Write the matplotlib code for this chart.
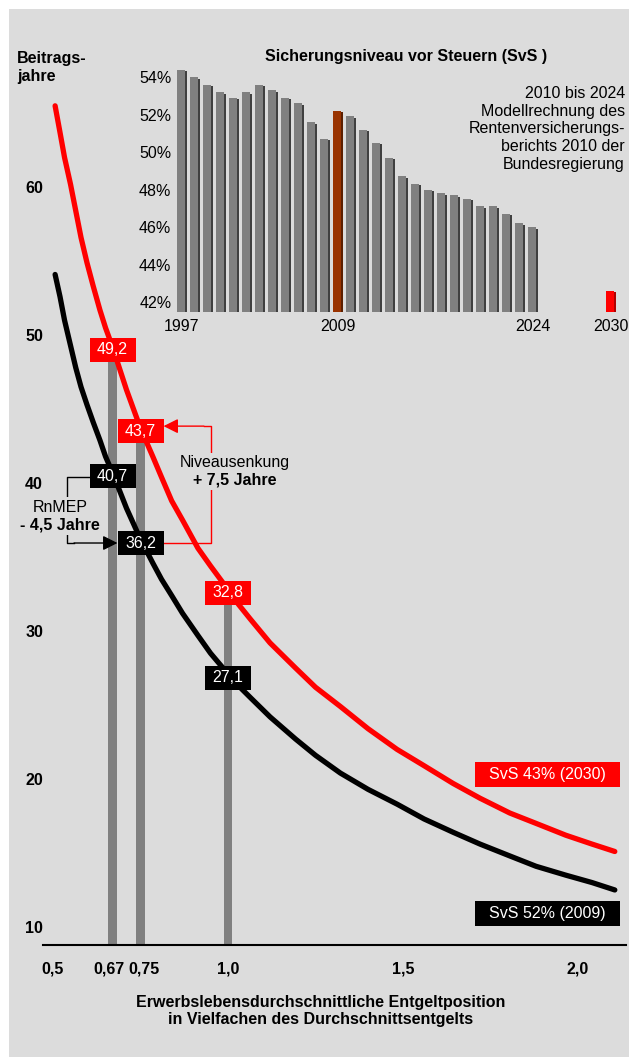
import matplotlib.pyplot as plt
from matplotlib.patches import Rectangle
from matplotlib.transforms import ScaledTranslation

plt.rcParams['font.family'] = ['Liberation Sans', 'DejaVu Sans']

BG = '#dcdcdc'
RED = '#ff0000'
GREY = '#808080'

# Beitragsjahre je Entgeltposition, fuer SvS 52% (2009) und SvS 43% (2030)
entgelt = [0.506, 0.52, 0.533, 0.55, 0.565, 0.58, 0.597, 0.615, 0.634, 0.65,
           0.67, 0.71, 0.75, 0.785, 0.81, 0.839, 0.87, 0.914, 0.95, 1.0,
           1.03, 1.064, 1.12, 1.193, 1.25, 1.321, 1.4, 1.483, 1.56, 1.643,
           1.72, 1.805, 1.88, 1.965, 2.04, 2.105]
jahre_2030 = [65.5, 63.7, 62.0, 60.2, 58.4, 56.6, 54.9, 53.3, 51.7, 50.5,
              49.2, 46.3, 43.7, 41.8, 40.4, 38.8, 37.5, 35.6, 34.4, 32.8,
              31.8, 30.8, 29.2, 27.5, 26.2, 24.9, 23.4, 22.0, 20.9, 19.7,
              18.7, 17.7, 17.0, 16.2, 15.6, 15.1]
jahre_2009 = [54.1, 52.6, 51.0, 49.3, 47.8, 46.5, 45.3, 44.1, 42.9, 41.8,
              40.7, 38.3, 36.2, 34.6, 33.5, 32.4, 31.2, 29.7, 28.5, 27.1,
              26.3, 25.5, 24.2, 22.7, 21.6, 20.4, 19.3, 18.3, 17.3, 16.4,
              15.6, 14.8, 14.1, 13.5, 13.0, 12.5]

# markierte Entgeltpositionen
mark_x = [0.67, 0.75, 1.0]
mark_2030 = [49.2, 43.7, 32.8]
mark_2009 = [40.7, 36.2, 27.1]

x_ticks = [0.5, 0.67, 0.75, 1.0, 1.5, 2.0]
x_labels = ['0,5', '0,67', '0,75', '1,0', '1,5', '2,0']
y_ticks = [10, 20, 30, 40, 50, 60]

# Sicherungsniveau vor Steuern in Prozent
svs_jahr = list(range(1997, 2025)) + [2030]
svs_wert = [54.4, 54.0, 53.6, 53.2, 52.9, 53.2, 53.6, 53.3, 52.9, 52.6,
            51.6, 50.7, 52.2, 51.9, 51.2, 50.5, 49.7, 48.7, 48.3, 48.0,
            47.8, 47.7, 47.5, 47.1, 47.1, 46.7, 46.2, 46.0, 42.6]
svs_ticks = [1997, 2009, 2024, 2030]

W, H = 629, 1059
fig = plt.figure(figsize=(W / 100, H / 100), dpi=100)
fig.patch.set_facecolor('white')
fig.patches.append(Rectangle((9 / W, 2 / H), 1 - 9 / W, 1 - 11 / H,
                             transform=fig.transFigure, facecolor=BG,
                             edgecolor='none', zorder=-10))

# --- Hauptdiagramm ---
ax = fig.add_axes([43 / W, 1 - 945 / H, (626 - 43) / W, (945 - 20) / H])
ax.set_facecolor('none')
ymin = 8.78
ax.set_xlim(0.4714, 2.137)
ax.set_ylim(ymin, 71.3)
for s in ['top', 'right', 'left']:
    ax.spines[s].set_visible(False)
ax.spines['bottom'].set_linewidth(1.5)

ax.set_xticks(x_ticks)
ax.set_xticklabels(x_labels, fontsize=11.5, fontweight='bold')
ax.set_yticks(y_ticks)
ax.set_yticklabels([str(v) for v in y_ticks], fontsize=11.5, fontweight='bold')
ax.tick_params(axis='x', length=0, pad=12)
ax.tick_params(axis='y', length=0, pad=0)
lbls = ax.get_xticklabels()
lbls[1].set_transform(lbls[1].get_transform() + ScaledTranslation(-0.04, 0, fig.dpi_scale_trans))
lbls[2].set_transform(lbls[2].get_transform() + ScaledTranslation(0.03, 0, fig.dpi_scale_trans))

# graue Stuetzen bis zum jeweiligen Wert 2030
for x, v in zip(mark_x, mark_2030):
    ax.bar(x, v - ymin, bottom=ymin, width=0.023, color=GREY, zorder=1)

ax.plot(entgelt, jahre_2030, color=RED, lw=3.8, solid_capstyle='round',
        solid_joinstyle='round', zorder=2)
ax.plot(entgelt, jahre_2009, color='black', lw=3.8, solid_capstyle='round',
        solid_joinstyle='round', zorder=2)

BW, BH = 46 / 350, 24 / 14.8


def box(x, y, text, color, w=BW, h=BH):
    ax.add_patch(Rectangle((x - w / 2, y - h / 2), w, h, facecolor=color,
                           edgecolor='none', zorder=4))
    ax.text(x, y, text, color='white', fontsize=11.5, ha='center', va='center', zorder=5)


for x, v in zip(mark_x, mark_2030):
    box(x, v - 0.2, f'{v:.1f}'.replace('.', ','), RED)
for x, v in zip(mark_x, mark_2009):
    box(x, v - 0.25, f'{v:.1f}'.replace('.', ','), 'black')

# Klammer Niveauabsenkung (rot)
xr0 = mark_x[1] + BW / 2
xr1 = 0.951
ax.plot([xr0, xr1, xr1, xr1 - 0.02], [mark_2009[1] - 0.25, mark_2009[1] - 0.25,
         mark_2030[1] + 0.15, mark_2030[1] + 0.15], color=RED, lw=1, zorder=3)
ax.annotate('', xy=(xr0, mark_2030[1] + 0.15), xytext=(xr1 - 0.02, mark_2030[1] + 0.15),
            arrowprops=dict(arrowstyle='-|>', color=RED, lw=1, mutation_scale=22,
                            shrinkA=0, shrinkB=0), zorder=3)
tb = dict(facecolor=BG, edgecolor='none', pad=1.5)
ax.text(1.018, 41.42, 'Niveausenkung', fontsize=11.5, ha='center', va='center',
        bbox=tb, zorder=4)
ax.text(1.018, 40.2, '+ 7,5 Jahre', fontsize=11.5, fontweight='bold', ha='center',
        va='center', bbox=tb, zorder=4)

# Klammer RnMEP (schwarz)
xb0 = mark_x[0] - BW / 2
xb1 = 0.54
ax.plot([xb0, xb1, xb1, xb1 + 0.02], [mark_2009[0] - 0.3, mark_2009[0] - 0.3,
         mark_2009[1] - 0.25, mark_2009[1] - 0.25], color='black', lw=1, zorder=3)
ax.annotate('', xy=(mark_x[1] - BW / 2, mark_2009[1] - 0.25),
            xytext=(xb1 + 0.02, mark_2009[1] - 0.25),
            arrowprops=dict(arrowstyle='-|>', color='black', lw=1, mutation_scale=22,
                            shrinkA=0, shrinkB=0), zorder=3)
ax.text(0.52, 38.38, 'RnMEP', fontsize=11.5, ha='center', va='center', bbox=tb, zorder=4)
ax.text(0.52, 37.16, '- 4,5 Jahre', fontsize=11.5, fontweight='bold', ha='center',
        va='center', bbox=tb, zorder=4)

# Legendenkaesten
box(1.913, 20.3, 'SvS 43% (2030)', RED, w=145 / 350, h=25 / 14.8)
box(1.913, 10.9, 'SvS 52% (2009)', 'black', w=145 / 350, h=25 / 14.8)

fig.text(17 / W, 1 - 67.5 / H, 'Beitrags-\njahre', fontsize=11.5, fontweight='bold',
         ha='left', va='center', linespacing=1.3)
fig.text(321 / W, 1 - 1011 / H,
         'Erwerbslebensdurchschnittliche Entgeltposition\n'
         'in Vielfachen des Durchschnittsentgelts',
         fontsize=11.5, fontweight='bold', ha='center', va='center', linespacing=1.15)

# --- Einsatzdiagramm Sicherungsniveau ---
ins = fig.add_axes([175.5 / W, 1 - 312 / H, 444.5 / W, (312 - 65) / H])
ins.set_facecolor('none')
base = 41.47
ins.set_xlim(1996.5, 2030.7)
ins.set_ylim(base, 54.64)
for s in ins.spines.values():
    s.set_visible(False)

for jahr, wert in zip(svs_jahr, svs_wert):
    if jahr == 2009:
        face, side = '#993300', '#5c1f00'
    elif jahr == 2030:
        face, side = RED, '#b00000'
    else:
        face, side = GREY, '#404040'
    ins.bar(jahr - 0.06, wert - base, bottom=base, width=0.6, color=face, zorder=2)
    ins.bar(jahr + 0.32, wert - base - 0.08, bottom=base, width=0.16, color=side, zorder=2)

ins.set_yticks(range(42, 55, 2))
ins.set_yticklabels([f'{v}%' for v in range(42, 55, 2)], fontsize=11.5)
ins.set_xticks(svs_ticks)
ins.set_xticklabels([str(v) for v in svs_ticks], fontsize=11.5)
ins.tick_params(axis='y', length=0, pad=3)
ins.tick_params(axis='x', length=0, pad=5)

fig.text(406 / W, 1 - 57 / H, 'Sicherungsniveau vor Steuern (SvS )', fontsize=11.5,
         fontweight='bold', ha='center', va='center')
fig.text(625 / W, 1 - 129 / H,
         '2010 bis 2024\nModellrechnung des\nRentenversicherungs-\n'
         'berichts 2010 der\nBundesregierung',
         fontsize=11.5, ha='right', va='center', linespacing=1.22)

fig.savefig('out.png', dpi=100, facecolor=fig.get_facecolor())
